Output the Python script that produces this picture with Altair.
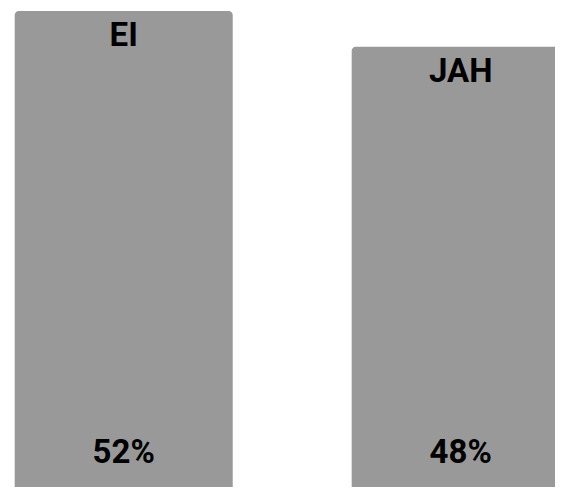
import altair as alt
import pandas as pd

# Data
categories = ["EI", "JAH"]
values = [52, 48]
value_labels = ["52%", "48%"]
title_text = "PEAKSID SAAMA KOKKU LIIDETUD"

df = pd.DataFrame({"vastus": categories, "protsent": values, "silt": value_labels})

Y_DOMAIN = [-1.33, 52.34]
FONT = "Roboto"

x = alt.X(
    "vastus:N",
    sort=categories,
    axis=None,
    scale=alt.Scale(range=[6.7, 561.7], paddingInner=0.353, paddingOuter=0),
)
y = alt.Y("protsent:Q", axis=None,
          scale=alt.Scale(domain=Y_DOMAIN, zero=False, nice=False))

base = alt.Chart(df).encode(x=x)

bars = base.mark_bar(
    color="#999999", cornerRadiusTopLeft=4, cornerRadiusTopRight=4
).encode(y=y, y2=alt.datum(Y_DOMAIN[0]))

top_labels = base.mark_text(
    font=FONT, fontSize=33, fontWeight="bold", baseline="alphabetic",
    dy=35, color="#000000"
).encode(y=y, text="vastus:N")

bottom_labels = base.mark_text(
    font=FONT, fontSize=33, fontWeight="bold", baseline="alphabetic",
    dy=-24, color="#000000"
).encode(y=alt.datum(Y_DOMAIN[0]), text="silt:N")

chart = (
    alt.layer(bars, top_labels, bottom_labels)
    .properties(
        width=547,
        height=479,
        padding=0,
        autosize=alt.AutoSizeParams(type="none"),
        title=alt.Title(title_text, font="Roboto", fontSize=30,
                        fontWeight="bold", color="#000000", offset=8),
    )
    .configure_view(stroke=None)
)

chart.save("out.html", embed_options={"renderer": "svg", "actions": False})
